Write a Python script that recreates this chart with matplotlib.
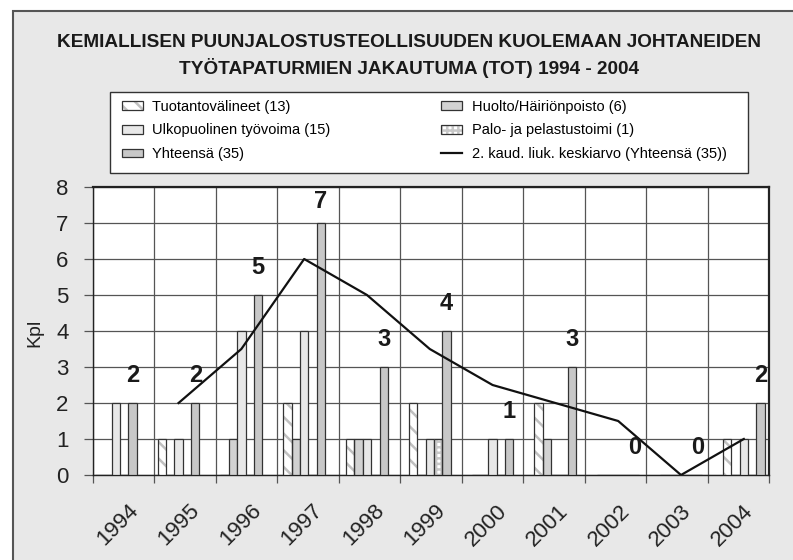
import numpy as np
import matplotlib
matplotlib.use("Agg")
import matplotlib.pyplot as plt
from matplotlib.patches import Patch, Rectangle
from matplotlib.lines import Line2D
from matplotlib.font_manager import FontProperties

plt.rcParams['hatch.linewidth'] = 1.8

years = ["1994", "1995", "1996", "1997", "1998", "1999", "2000", "2001", "2002", "2003", "2004"]
tuotanto = [0, 1, 0, 2, 1, 2, 0, 2, 0, 0, 1]
huolto = [0, 0, 1, 1, 1, 0, 0, 1, 0, 0, 0]
ulkopuolinen = [2, 1, 4, 4, 1, 1, 1, 0, 0, 0, 1]
palo = [0, 0, 0, 0, 0, 1, 0, 0, 0, 0, 0]
yhteensa = [2, 2, 5, 7, 3, 4, 1, 3, 0, 0, 2]
liuk_ka = [np.nan, 2, 3.5, 6, 5, 3.5, 2.5, 2, 1.5, 0, 1]

legend_labels = ["Tuotantovälineet (13)", "Ulkopuolinen työvoima (15)", "Yhteensä (35)",
                 "Huolto/Häiriönpoisto (6)", "Palo- ja pelastustoimi (1)",
                 "2. kaud. liuk. keskiarvo (Yhteensä (35))"]
title = "KEMIALLISEN PUUNJALOSTUSTEOLLISUUDEN KUOLEMAAN JOHTANEIDEN\nTYÖTAPATURMIEN JAKAUTUMA (TOT) 1994 - 2004"

W, H = 793, 560
fig = plt.figure(figsize=(W / 100, H / 100), dpi=100, facecolor="white")

# gray frame
fig.add_artist(Rectangle((13 / W, -0.1), 1.2, 1 - 11 / H + 0.1, transform=fig.transFigure,
                         facecolor="#e8e8e8", edgecolor="#555555", linewidth=1.5, zorder=-10))
# legend box
fig.add_artist(Rectangle((110 / W, 1 - 172.5 / H), 638 / W, 80 / H, transform=fig.transFigure,
                         facecolor="white", edgecolor="#333333", linewidth=1.0, zorder=-5))

ax = fig.add_axes([93 / W, 85 / H, 676 / W, 288 / H])
ax.set_zorder(1)
ax.set_facecolor("white")

n = len(years)
idx = np.arange(n)
centers = 0.37 + 1.022 * idx
w = 0.136
edge = "#333333"

sans = ['Liberation Sans', 'DejaVu Sans']

# bars
ax.bar(centers - 2 * w, tuotanto, width=w, facecolor="white", edgecolor="#c0c0c0", hatch="\\\\", linewidth=0, zorder=3)
ax.bar(centers - 2 * w, tuotanto, width=w, fill=False, edgecolor=edge, linewidth=0.9, zorder=4)
ax.bar(centers - w, huolto, width=w, facecolor="#d2d2d2", edgecolor=edge, linewidth=0.9, zorder=3)
ax.bar(centers, ulkopuolinen, width=w, facecolor="#e8e8e8", edgecolor=edge, linewidth=0.9, zorder=3)
ax.bar(centers + w, palo, width=w, facecolor="white", edgecolor="#c8c8c8", hatch="+++", linewidth=0, zorder=3)
ax.bar(centers + w, palo, width=w, fill=False, edgecolor=edge, linewidth=0.9, zorder=4)
ax.bar(centers + 2 * w, yhteensa, width=w, facecolor="#c8c8c8", edgecolor=edge, linewidth=0.9, zorder=3)

ax.plot(centers, liuk_ka, color="#111111", linewidth=1.6, zorder=5)

for x, v in zip(centers + 2 * w, yhteensa):
    ax.text(x, min(v + 0.75, 7.6), str(v), ha="center", va="center",
            fontsize=17, fontweight="bold", family=sans, color="#1a1a1a", zorder=6)

ax.set_xlim(0, 11)
ax.set_ylim(0, 8)
ax.set_xticks(np.arange(0, 12))
ax.set_xticklabels([])
ax.set_yticks(np.arange(0, 9))
ax.grid(True, color="#555555", linewidth=0.9, zorder=1)
ax.set_axisbelow(True)
ax.tick_params(axis="y", direction="out", length=6.5, width=0.9, color="#555555", pad=11,
               labelsize=16, labelcolor="#222222")
ax.tick_params(axis="x", direction="out", length=6, width=0.9, color="#555555")
for lab in ax.get_yticklabels():
    lab.set_family(sans)

for s in ["top", "right"]:
    ax.spines[s].set_linewidth(1.6)
    ax.spines[s].set_color("#222222")
for s in ["left", "bottom"]:
    ax.spines[s].set_linewidth(1.0)
    ax.spines[s].set_color("#222222")

trans = ax.get_xaxis_transform()
for i, yr in enumerate(years):
    ax.text(i + 0.4, -0.174, yr, transform=trans, rotation=45, ha="center", va="center",
            fontsize=16, family=sans, color="#222222", clip_on=False)

fig.text(35 / W, 1 - 333 / H, "Kpl", rotation=90, ha="center", va="center", fontsize=14,
         family=sans, color="#222222")

fig.text(409 / W, 1 - 56 / H, title, ha="center", va="center", fontsize=13.7, fontweight="bold",
         family=sans, color="#1a1a1a", linespacing=1.42)

# legend
h_tuot = (Patch(facecolor="white", edgecolor="#c0c0c0", hatch="\\\\", linewidth=0),
          Patch(fill=False, edgecolor=edge, linewidth=0.9))
h_ulko = Patch(facecolor="#e8e8e8", edgecolor=edge, linewidth=0.9)
h_yht = Patch(facecolor="#c8c8c8", edgecolor=edge, linewidth=0.9)
h_huol = Patch(facecolor="#d2d2d2", edgecolor=edge, linewidth=0.9)
h_palo = (Patch(facecolor="white", edgecolor="#c8c8c8", hatch="+++", linewidth=0),
          Patch(fill=False, edgecolor=edge, linewidth=0.9))
h_line = Line2D([], [], color="#111111", linewidth=1.6)

fs_leg = 10.5
fs_px = fs_leg * 100 / 72


def make_legend(x0, ytop, colsp, labsp):
    return fig.legend([h_tuot, h_ulko, h_yht, h_huol, h_palo, h_line], legend_labels,
                      loc="upper left", bbox_to_anchor=(x0 / W, 1 - ytop / H),
                      ncol=2, borderaxespad=0, borderpad=0, frameon=False,
                      prop=FontProperties(family=sans, size=fs_leg),
                      handlelength=1.45, handleheight=0.55, handletextpad=0.65,
                      labelspacing=labsp, columnspacing=colsp)


colsp, labsp, x0, ytop = 8.0, 0.6, 121.7, 98.0
leg = make_legend(x0, ytop, colsp, labsp)
for _ in range(3):
    fig.canvas.draw()
    r = fig.canvas.get_renderer()
    texts = leg.get_texts()
    b0 = texts[0].get_window_extent(r)
    b1 = texts[1].get_window_extent(r)
    b3 = texts[3].get_window_extent(r)
    # pixel coords: y from bottom
    c0 = H - (b0.y0 + b0.y1) / 2
    c1 = H - (b1.y0 + b1.y1) / 2
    dx_col = 471.7 - b3.x0
    colsp += dx_col / fs_px
    labsp += (23.7 - (c1 - c0)) / fs_px
    dx0 = 150.0 - b0.x0
    ytop += 106.7 - c0
    leg.remove()
    leg = make_legend(x0 + 0 * dx0, ytop, colsp, labsp)

fig.savefig("out.png", dpi=100, facecolor="white")
